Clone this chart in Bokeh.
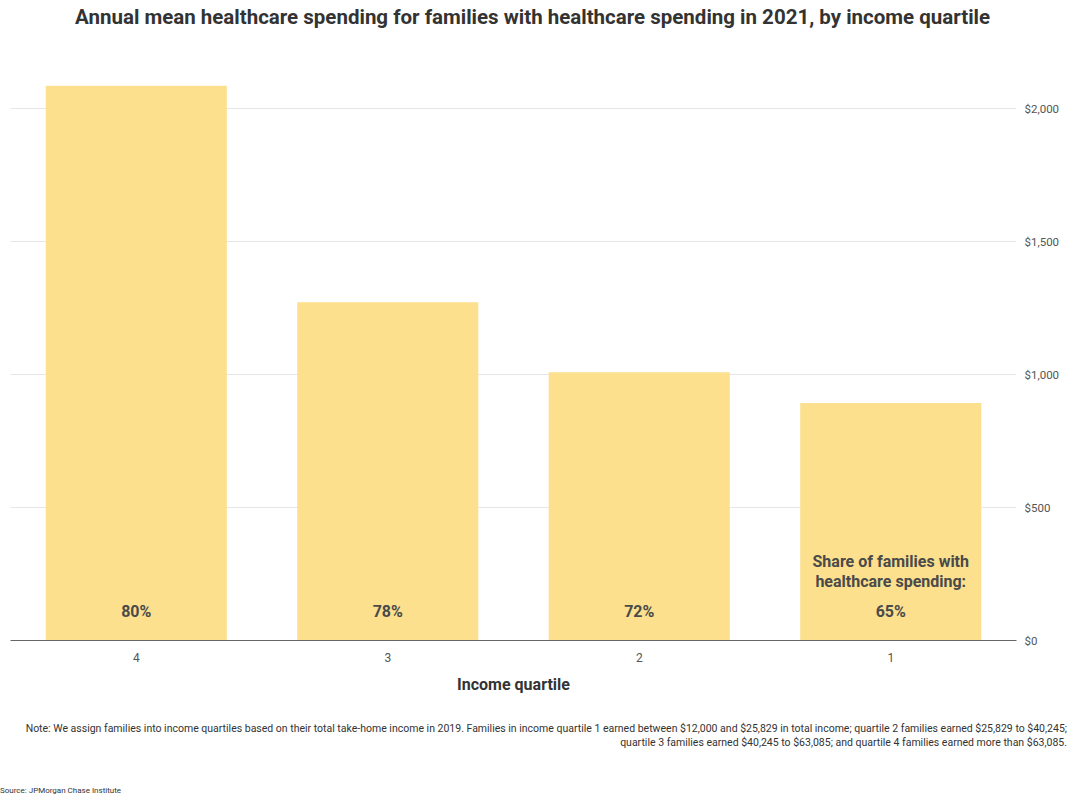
from bokeh.plotting import figure
from bokeh.models import FactorRange, Range1d, NumeralTickFormatter, FixedTicker, Div, ColumnDataSource
from bokeh.layouts import column
from bokeh.core.properties import value
from bokeh.embed import file_html
from bokeh.resources import INLINE

# ---- data ----
quartiles = ["1", "2", "3", "4"]
spending = [893, 1009, 1272, 2086]
share_labels = ["65%", "72%", "78%", "80%"]
annotation_lines = ["Share of families with", "healthcare spending:"]
y_ticks = [0, 500, 1000, 1500, 2000]
title_text = "Annual mean healthcare spending for families with healthcare spending in 2021, by income quartile"
note_line1 = ("Note: We assign families into income quartiles based on their total take-home income in 2019. "
              "Families in income quartile 1 earned between $12,000 and $25,829 in total income; "
              "quartile 2 families earned $25,829 to $40,245;")
note_line2 = "quartile 3 families earned $40,245 to $63,085; and quartile 4 families earned more than $63,085."
source_text = "Source: JPMorgan Chase Institute"

FONT = "Roboto"
BAR = "#FCE08E"
TXT = "#4a4a4a"

src = ColumnDataSource(dict(q=quartiles, v=spending, s=share_labels))

title = Div(text=title_text, width=1062,
            styles={"font-family": FONT, "font-size": "20.5px", "font-weight": "bold",
                    "color": "#333333", "line-height": "24px", "margin-top": "5px",
                    "padding-left": "70px", "white-space": "nowrap"})

p = figure(width=1062, height=662, output_backend="svg", toolbar_location=None,
           x_range=FactorRange(factors=list(reversed(quartiles)), range_padding=0),
           y_range=Range1d(0, 2200), y_axis_location="right",
           min_border_left=10, min_border_right=0, min_border_top=21, min_border_bottom=6)
p.outline_line_color = None

p.vbar(x="q", top="v", width=0.72, source=src, fill_color=BAR, line_color=None)
p.text(x="q", y=0, text="s", source=src, text_align="center", text_baseline="middle",
       y_offset=-29, text_font=value(FONT), text_font_size="16px", text_font_style="bold",
       text_color=TXT)
p.text(x=[quartiles[0], quartiles[0]], y=[0, 0], text=annotation_lines,
       text_align="center", text_baseline="middle", y_offset=[-79, -59],
       text_font=value(FONT), text_font_size="16px", text_font_style="bold", text_color=TXT)

p.xgrid.grid_line_color = None
p.ygrid.grid_line_color = "#e6e6e6"
p.ygrid.ticker = FixedTicker(ticks=y_ticks)

p.yaxis.ticker = FixedTicker(ticks=y_ticks)
p.yaxis.formatter = NumeralTickFormatter(format="$0,0")
p.yaxis.axis_line_color = None
p.yaxis.major_tick_line_color = None
p.yaxis.minor_tick_line_color = None
p.yaxis.major_label_text_font = FONT
p.yaxis.major_label_text_font_size = "11.5px"
p.yaxis.major_label_text_color = "#555555"
p.yaxis.major_label_standoff = 2

p.xaxis.axis_line_color = "#666666"
p.xaxis.major_tick_line_color = None
p.xaxis.minor_tick_line_color = None
p.xaxis.major_label_text_font = FONT
p.xaxis.major_label_text_font_size = "12px"
p.xaxis.major_label_text_color = "#555555"
p.xaxis.major_label_standoff = 6
p.xaxis.axis_label = "Income quartile"
p.xaxis.axis_label_text_font = FONT
p.xaxis.axis_label_text_font_size = "16px"
p.xaxis.axis_label_text_font_style = "bold"
p.xaxis.axis_label_text_color = "#333333"
p.xaxis.axis_label_standoff = 10

note = Div(text=note_line1 + "<br>" + note_line2, width=1062,
           styles={"text-align": "right", "font-family": FONT, "font-size": "10.5px",
                   "color": "#333333", "line-height": "14px", "margin-top": "26px"})
source = Div(text=source_text, width=300,
             styles={"font-family": FONT, "font-size": "8px", "color": "#333333",
                     "margin-top": "30px", "margin-left": "0px"})

layout = column(title, p, note, source, spacing=0)
open("out.html", "w").write(file_html(layout, INLINE))
